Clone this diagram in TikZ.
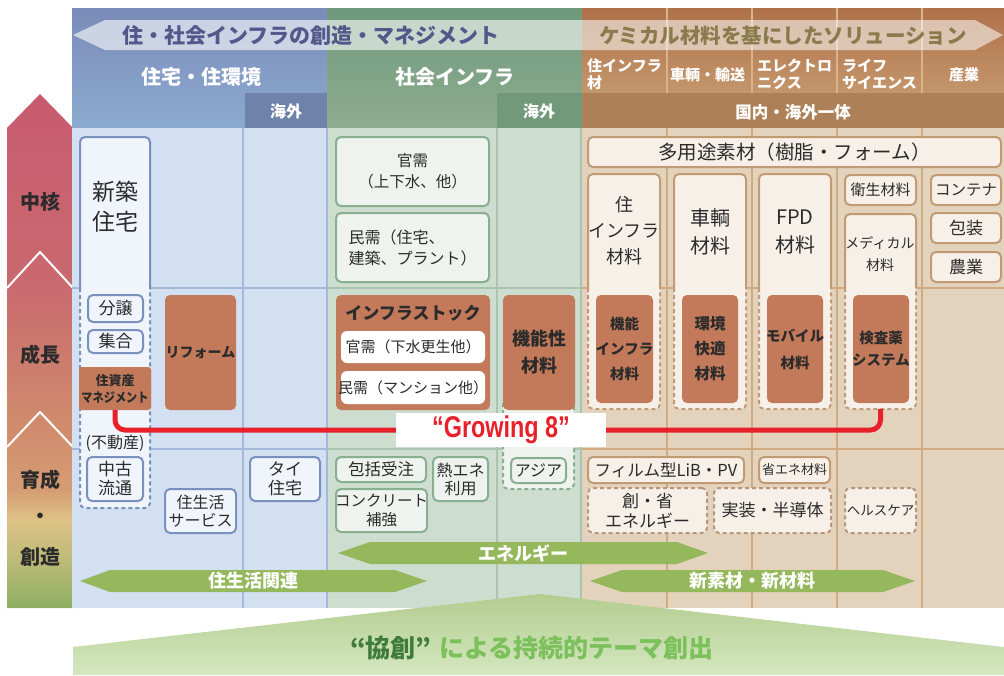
\documentclass[tikz,border=0pt]{standalone}
\usepackage{fontspec}
\setmainfont{Noto Sans CJK JP}
\newfontfamily\gfont{Liberation Sans}
\usetikzlibrary{fit}
\definecolor{bluehdA}{HTML}{7A8CB9}
\definecolor{bluehdB}{HTML}{8CAAD0}
\definecolor{bluebody}{HTML}{D3E0F1}
\definecolor{blueline}{HTML}{A3B9DA}
\definecolor{bluebox}{HTML}{6F82AA}
\definecolor{blueborder}{HTML}{7A90BE}
\definecolor{bluefill}{HTML}{F0F4FB}
\definecolor{greenhdA}{HTML}{6F987A}
\definecolor{greenhdB}{HTML}{8EAD91}
\definecolor{greenbody}{HTML}{CDDDD0}
\definecolor{greenline}{HTML}{ABC4B0}
\definecolor{greenbox}{HTML}{72997A}
\definecolor{greenborder}{HTML}{88AF90}
\definecolor{greenfill}{HTML}{EFF3EF}
\definecolor{brownhdA}{HTML}{AF714A}
\definecolor{brownhdB}{HTML}{C4966B}
\definecolor{brownbody}{HTML}{E3D3BD}
\definecolor{brownline}{HTML}{D1AA80}
\definecolor{brownhdline}{HTML}{D9B38B}
\definecolor{brownbar}{HTML}{AD8058}
\definecolor{brownborder}{HTML}{C29A74}
\definecolor{browndash}{HTML}{B8967A}
\definecolor{brownfill}{HTML}{F6F0E9}
\definecolor{terra}{HTML}{C27A5A}
\definecolor{txt}{HTML}{2B2B2B}
\definecolor{arrgreen}{HTML}{95B85D}
\definecolor{g8red}{HTML}{E8202A}
\definecolor{hdtxtblue}{HTML}{525889}
\definecolor{hdtxtbrown}{HTML}{8A7B4E}
\definecolor{kyodark}{HTML}{3F7B3B}
\definecolor{kyolight}{HTML}{7CC05C}
\definecolor{pentA}{HTML}{B3CD90}
\definecolor{pentB}{HTML}{D4E7BF}
\definecolor{la0}{HTML}{C85B6F}
\definecolor{la1}{HTML}{C96A6F}
\definecolor{la2}{HTML}{CF8A6C}
\definecolor{la3}{HTML}{D59C74}
\definecolor{la4}{HTML}{DEC286}
\definecolor{la5}{HTML}{BDBB78}
\definecolor{la6}{HTML}{8DAF63}
\pgfdeclareverticalshading{leftarr}{100bp}{color(0bp)=(la6); color(25bp)=(la6); color(29.7bp)=(la5); color(33.6bp)=(la4); color(36.5bp)=(la3); color(43.3bp)=(la2); color(56.2bp)=(la1); color(75bp)=(la0); color(100bp)=(la0)}
\newcommand\fsz[2]{\fontsize{#1}{#2}\selectfont}
\newcommand\bx[7][]{\node[#2,fit={(#4,#5) (#6,#7)},inner sep=0pt,#1] (#3) {};}
\newcommand\colbox[7]{%
  \path[fill=#6, rounded corners=5pt] (#1,#3) rectangle (#2,#4);
  \draw[#5, line width=2pt, rounded corners=5pt] (#1,288) -- (#1,#3) -- (#2,#3) -- (#2,288);
  \draw[#5, line width=2pt, dash pattern=on 4pt off 3pt, rounded corners=5pt] (#1,288) -- (#1,#4) -- (#2,#4) -- (#2,288);
  \node[fit={(#1,#3) (#2,#4)}, inner sep=0pt] (#7) {};}
\tikzset{
  boxbase/.style={rounded corners=5pt, line width=2pt, align=center, inner sep=0pt, text=txt},
  bbox/.style={boxbase, draw=blueborder, fill=bluefill},
  gbox/.style={boxbase, draw=greenborder, fill=greenfill},
  rbox/.style={boxbase, draw=brownborder, fill=brownfill},
  rdash/.style={boxbase, draw=browndash, fill=brownfill, dash pattern=on 4pt off 3pt},
  tbox/.style={rounded corners=5pt, fill=terra, align=center, inner sep=0pt, text=txt},
  wbox/.style={rounded corners=6pt, fill=white, align=center, inner sep=0pt, text=txt},
  lbl/.style={text=txt, font=\bfseries\fsz{20}{24}},
  hdw/.style={text=white, font=\bfseries\fsz{15}{17}, align=left, inner sep=0pt},
  arrlbl/.style={text=white, font=\bfseries\fsz{18}{20}},
}
\begin{document}
\begin{tikzpicture}[x=1pt,y=-1pt]
\useasboundingbox (0,0) rectangle (1004,675);
% left arrow
\shade[shading=leftarr] (7,128) -- (40,94) -- (73,128) -- (73,608) -- (7,608) -- cycle;
\draw[white, line width=2pt] (7,288) -- (40,252) -- (73,288);
\draw[white, line width=2pt] (7,447) -- (40,412) -- (73,447);
\node[lbl] (l1) at (40,202) {中核};
\node[lbl] (l2) at (40,355) {成長};
\node[lbl] (l3) at (40,480) {育成};
\node[lbl] (l4) at (40,518) {・};
\node[lbl] (l5) at (40,557) {創造};
% sections
\shade[top color=bluehdA, bottom color=bluehdB] (72,8) rectangle (327,128);
\fill[bluebox] (245,93) rectangle (327,128);
\fill[bluebody] (72,128) rectangle (327,608);
\shade[top color=greenhdA, bottom color=greenhdB] (327,8) rectangle (582,128);
\fill[greenbox] (497,93) rectangle (582,128);
\fill[greenbody] (327,128) rectangle (582,608);
\shade[top color=brownhdA, bottom color=brownhdB] (582,8) rectangle (1004,93);
\fill[brownbar] (582,93) rectangle (1004,128);
\fill[brownbody] (582,128) rectangle (1004,608);
% lines
\foreach \x in {667,752,837,922} {
  \draw[brownhdline, line width=1.5pt] (\x,8) -- (\x,93);
  \draw[brownline, line width=2pt] (\x,128) -- (\x,608);
}
\draw[blueline, line width=2pt] (243,128) -- (243,608);
\draw[blueline, line width=2.5pt] (327,128) -- (327,608);
\draw[greenline, line width=2pt] (497,128) -- (497,608);
\draw[greenline, line width=2pt] (581,128) -- (581,608);
\foreach \y in {288,449} {
  \draw[blueline, line width=2pt] (72,\y) -- (326,\y);
  \draw[greenline, line width=2pt] (328,\y) -- (580,\y);
  \draw[brownline, line width=2pt] (582,\y) -- (1004,\y);
}
% top arrows
\fill[white, opacity=0.6] (73,35) -- (105,20) -- (582,20) -- (582,50) -- (105,50) -- cycle;
\fill[white, opacity=0.55] (582,20) -- (975,20) -- (1003,35) -- (975,50) -- (582,50) -- cycle;
\node[text=hdtxtblue, font=\bfseries\fsz{21}{24}] (ta) at (311,36) {住・社会インフラの創造・マネジメント};
\node[text=hdtxtbrown, font=\bfseries\fsz{20.5}{24}] (tb) at (783,36) {ケミカル材料を基にしたソリューション};
% headers
\node[text=white, font=\bfseries\fsz{20}{24}] (h1) at (201,77) {住宅・住環境};
\node[text=white, font=\bfseries\fsz{20}{24}] (h2) at (455,77) {社会インフラ};
\node[text=white, font=\bfseries\fsz{16}{18}] (h3) at (286,111) {海外};
\node[text=white, font=\bfseries\fsz{16}{18}] (h4) at (539,111) {海外};
\node[text=white, font=\bfseries\fsz{16.5}{18}] (h5) at (793,112) {国内・海外一体};
\node[hdw, anchor=west] (s1) at (587,74) {住インフラ\\材};
\node[hdw, anchor=west] (s2) at (670,75) {車輌・輸送};
\node[hdw, anchor=west] (s3) at (757,74) {エレクトロ\\ニクス};
\node[hdw, anchor=west] (s4) at (842,74) {ライフ\\サイエンス};
\node[hdw] (s5) at (964,75) {産業};
% blue boxes
\colbox{80}{150}{137}{508}{blueborder}{bluefill}{shincol}
\node[text=txt, font=\fsz{23}{30}, align=center] (shin) at (115,207) {新築\\住宅};
\bx{bbox}{bunjo}{88}{295}{143}{322}
\node[font=\fsz{17}{19}, text=txt] at (bunjo) {分譲};
\bx{bbox}{shugo}{88}{330}{143}{353}
\node[font=\fsz{17}{19}, text=txt] at (shugo) {集合};
\bx[rounded corners=3pt]{tbox}{zm}{79}{367}{151}{410}
\node[font=\bfseries\fsz{13}{17}, text=txt, align=center] at (zm) {住資産\\\scalebox{0.86}[1]{マネジメント}};
\node[font=\fsz{16}{18}, text=txt] (fudo) at (115,443) {(不動産)};
\bx{bbox}{chuko}{87}{457}{143}{501}
\node[font=\fsz{17}{19}, text=txt, align=center] at (chuko) {中古\\流通};
\bx{tbox}{reform}{165}{295}{236}{410}
\node[font=\bfseries\fsz{14}{16}, text=txt] at (reform) {リフォーム};
\bx{bbox}{jsk}{165}{489}{236}{533}
\node[font=\fsz{16}{18}, text=txt, align=center] at (jsk) {住生活\\サービス};
\bx{bbox}{thai}{250}{457}{320}{501}
\node[font=\fsz{17}{19}, text=txt, align=center] at (thai) {タイ\\住宅};
% green boxes
\bx{gbox}{kanju}{336}{137}{489}{206}
\node[font=\fsz{15.5}{21}, text=txt, align=center] at (kanju) {官需\\（上下水、他）};
\bx{gbox}{minju}{336}{213}{489}{282}
\node[font=\fsz{16}{21}, text=txt, align=left, anchor=west] at (345,247.5) {民需（住宅、\\建築、プラント）};
\bx{tbox}{istock}{336}{295}{490}{410}
\node[font=\bfseries\fsz{17}{19}, text=txt] (istockT) at (413,313) {インフラストック};
\bx{wbox}{kj2}{341}{331}{485}{363}
\node[font=\fsz{15}{17}, text=txt] at (kj2) {官需（下水更生他）};
\bx{wbox}{mj2}{341}{371}{485}{404}
\node[font=\fsz{15}{17}, text=txt] at (mj2) {民需（マンション他）};
\draw[greenborder, fill=greenfill, line width=2pt, dash pattern=on 4pt off 3pt, rounded corners=5pt] (503,398) rectangle (574,489);
\bx{tbox}{kinou}{503}{295}{575}{410}
\node[font=\bfseries\fsz{18}{27}, text=txt, align=center] at (kinou) {機能性\\材料};
\bx{gbox}{asia}{511}{458}{566}{483}
\node[font=\fsz{16}{18}, text=txt] at (asia) {アジア};
\bx{gbox}{hokatsu}{336}{457}{426}{482}
\node[font=\fsz{16.5}{18}, text=txt] at (hokatsu) {包括受注};
\bx{gbox}{concrete}{336}{489}{427}{532}
\node[font=\fsz{15.5}{19}, text=txt, align=center] at (concrete) {コンクリート\\補強};
\bx{gbox}{netsu}{433}{457}{488}{501}
\node[font=\fsz{16}{18}, text=txt, align=center] at (netsu) {熱エネ\\利用};
% brown boxes
\bx{rbox}{tayou}{588}{137}{1001}{167}
\node[font=\fsz{19.5}{22}, text=txt] at (tayou) {多用途素材（樹脂・フォーム）};
\colbox{588}{660}{174}{409}{brownborder}{brownfill}{c1}
\node[font=\fsz{18}{26}, text=txt, align=center] (c1t) at (624,231) {住\\インフラ\\材料};
\colbox{674}{746}{174}{409}{brownborder}{brownfill}{c2}
\node[font=\fsz{20}{28}, text=txt, align=center] (c2t) at (710,232) {車輌\\材料};
\colbox{759}{831}{174}{409}{brownborder}{brownfill}{c3}
\node[font=\fsz{20}{28}, text=txt, align=center] (c3t) at (795,232) {FPD\\材料};
\bx{rbox}{eisei}{845}{175}{916}{205}
\node[font=\fsz{15}{17}, text=txt] at (eisei) {衛生材料};
\colbox{845}{916}{214}{409}{brownborder}{brownfill}{c4}
\node[font=\fsz{14}{22}, text=txt, align=center] (c4t) at (880,254) {メディカル\\材料};
\bx{rbox}{container}{931}{175}{1001}{205}
\node[font=\fsz{15.5}{17}, text=txt] at (container) {コンテナ};
\bx{rbox}{housou}{931}{213}{1001}{243}
\node[font=\fsz{17}{19}, text=txt] at (housou) {包装};
\bx{rbox}{nougyou}{931}{252}{1001}{282}
\node[font=\fsz{17}{19}, text=txt] at (nougyou) {農業};
\bx{tbox}{t1}{596}{295}{653}{403}
\node[font=\bfseries\fsz{14.5}{25}, text=txt, align=center] at (t1) {機能\\インフラ\\材料};
\bx{tbox}{t2}{682}{295}{738}{403}
\node[font=\bfseries\fsz{15.5}{25}, text=txt, align=center] at (t2) {環境\\快適\\材料};
\bx{tbox}{t3}{767}{295}{823}{403}
\node[font=\bfseries\fsz{14.5}{27}, text=txt, align=center] at (t3) {モバイル\\材料};
\bx{tbox}{t4}{853}{295}{909}{403}
\node[font=\bfseries\fsz{14.5}{22}, text=txt, align=center] at (t4) {検査薬\\システム};
\bx{rbox}{film}{588}{457}{744}{483}
\node[font=\fsz{16.5}{18}, text=txt] at (film) {フィルム型LiB・PV};
\bx{rbox}{shoene}{759}{457}{830}{483}
\node[font=\fsz{13}{15}, text=txt] at (shoene) {省エネ材料};
\bx{rdash}{souene}{588}{488}{707}{533}
\node[font=\fsz{17}{20}, text=txt, align=center] at (souene) {創・省\\エネルギー};
\bx{rdash}{jisso}{714}{488}{831}{533}
\node[font=\fsz{17}{19}, text=txt] at (jisso) {実装・半導体};
\bx{rdash}{health}{845}{488}{916}{533}
\node[font=\fsz{13.5}{15}, text=txt] at (health) {ヘルスケア};
% Growing 8
\coordinate (g8c) at (500,430);
\draw[g8red, line width=5pt, rounded corners=10pt] (zm.south) |- (g8c) -| (c4.south);
\node[fill=white, minimum width=210pt, minimum height=34pt, inner sep=0pt] (g8) at (501,430)
  {\scalebox{0.78}[1]{\gfont\bfseries\fsz{30}{30}\color{g8red}“Growing 8”}};
% pentagon
\shade[top color=pentA, bottom color=pentB] (73,647) -- (540,594) -- (1004,647) -- (1004,675) -- (73,675) -- cycle;
\node[font=\bfseries\fsz{25}{28}, inner sep=0pt] (kyo) at (532,648) {\textcolor{kyodark}{“協創”}\hspace{8pt}\textcolor{kyolight}{による持続的テーマ創出}};
% bottom arrows
\fill[arrgreen] (80,581) -- (110,570) -- (395,570) -- (427,581) -- (395,592) -- (110,592) -- cycle;
\node[arrlbl] (a1) at (253,581) {住生活関連};
\fill[arrgreen] (338,553) -- (370,542) -- (677,542) -- (708,553) -- (677,564) -- (370,564) -- cycle;
\node[arrlbl] (a2) at (523,553) {エネルギー};
\fill[arrgreen] (590,581) -- (622,570) -- (883,570) -- (915,581) -- (883,592) -- (622,592) -- cycle;
\node[arrlbl] (a3) at (752,581) {新素材・新材料};
\end{tikzpicture}
\end{document}
